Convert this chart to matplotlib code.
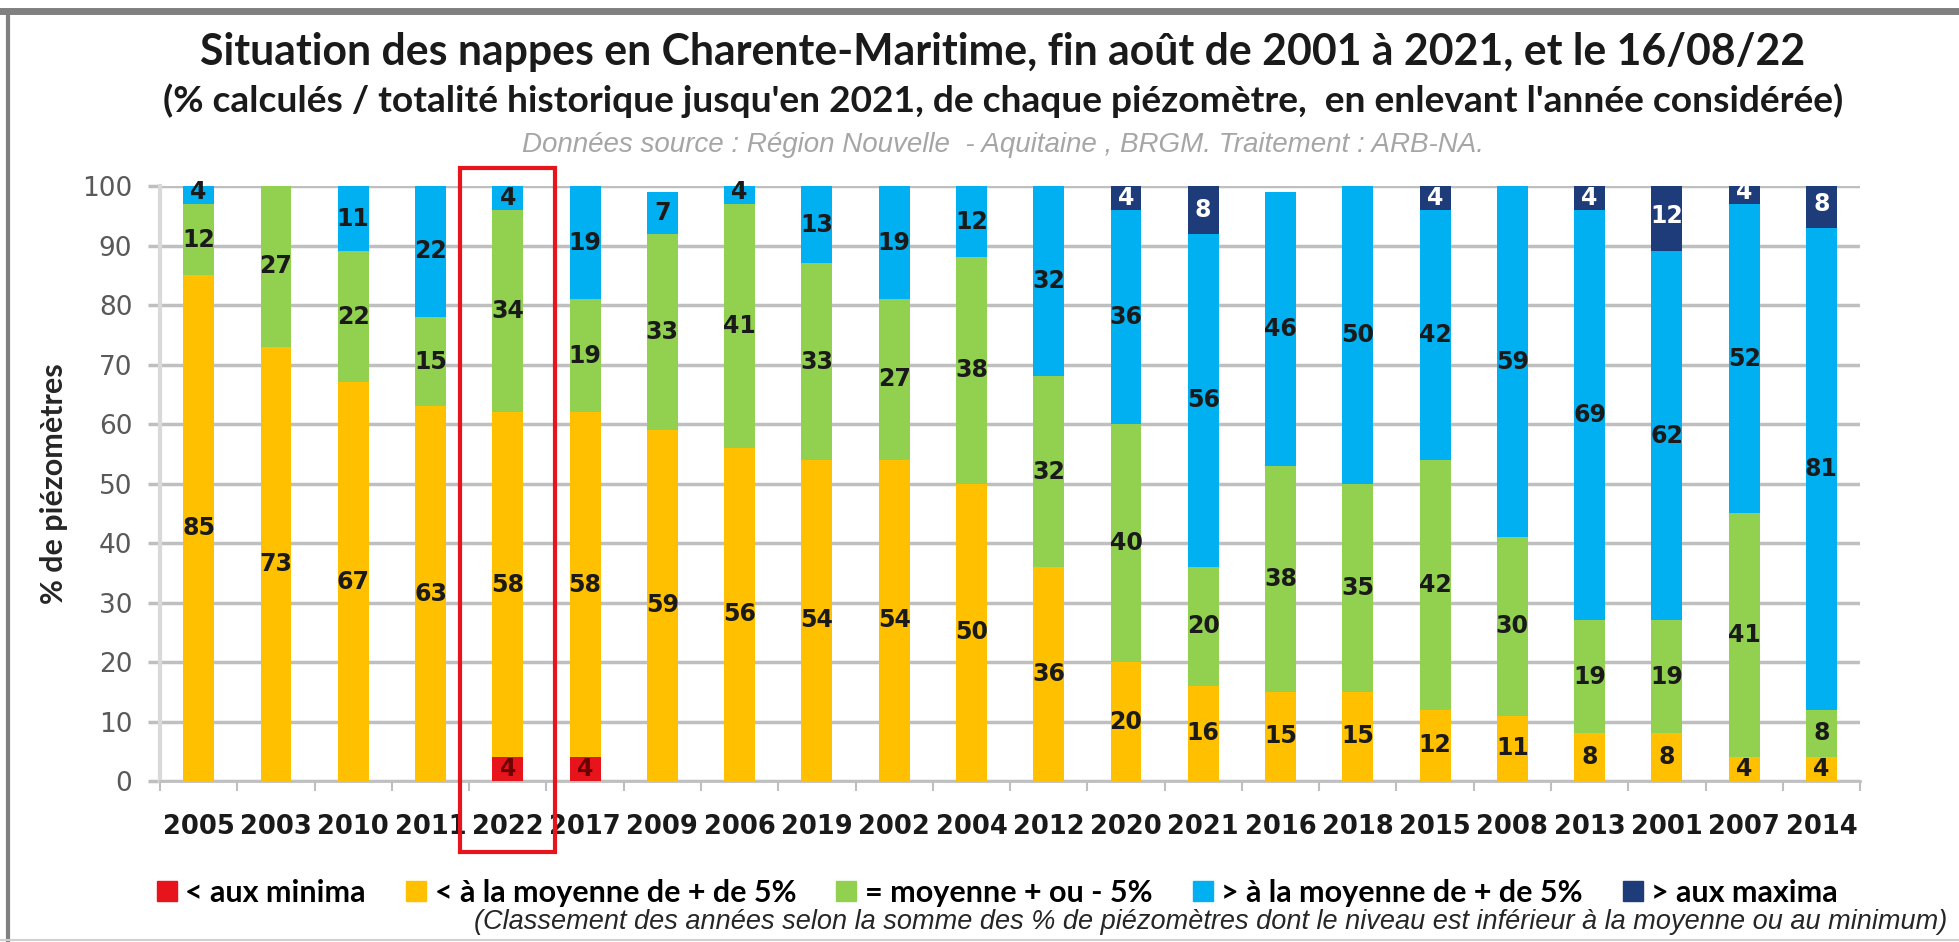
import numpy as np
import matplotlib
matplotlib.use("Agg")
import matplotlib.pyplot as plt
from matplotlib.patches import Rectangle
from matplotlib.lines import Line2D


# years, ranked by sum of % below mean / minimum
annees = ['2005', '2003', '2010', '2011', '2022', '2017', '2009', '2006', '2019', '2002', '2004',
          '2012', '2020', '2021', '2016', '2018', '2015', '2008', '2013', '2001', '2007', '2014']

minima = [0, 0, 0, 0, 4, 4, 0, 0, 0, 0, 0, 0, 0, 0, 0, 0, 0, 0, 0, 0, 0, 0]
sous_moy = [85, 73, 67, 63, 58, 58, 59, 56, 54, 54, 50, 36, 20, 16, 15, 15, 12, 11, 8, 8, 4, 4]
moyenne = [12, 27, 22, 15, 34, 19, 33, 41, 33, 27, 38, 32, 40, 20, 38, 35, 42, 30, 19, 19, 41, 8]
sur_moy = [4, 0, 11, 22, 4, 19, 7, 4, 13, 19, 12, 32, 36, 56, 46, 50, 42, 59, 69, 62, 52, 81]
maxima = [0, 0, 0, 0, 0, 0, 0, 0, 0, 0, 0, 0, 4, 8, 0, 0, 4, 0, 4, 12, 4, 8]

series = [minima, sous_moy, moyenne, sur_moy, maxima]
noms = ['< aux minima', '< à la moyenne de + de 5%', '= moyenne + ou - 5%',
        '> à la moyenne de + de 5%', '> aux maxima']
couleurs = ['#E8141B', '#FFC000', '#92D050', '#00B0F0', '#1F3C7A']
coul_txt = ['#6B0000', '#1a1a1a', '#1a1a1a', '#1a1a1a', '#FFFFFF']

fig = plt.figure(figsize=(19.59, 9.42), dpi=100)
ax = fig.add_axes([0.0817, 0.1709, 0.8678, 0.6316])

x = np.arange(len(annees))
bas = np.zeros(len(annees))
for vals, col, tc in zip(series, couleurs, coul_txt):
    vals = np.array(vals, dtype=float)
    ax.bar(x, vals, 0.40, bottom=bas, color=col, zorder=3)
    for i in range(len(x)):
        if vals[i] > 0:
            ax.text(x[i], bas[i] + vals[i] / 2, str(int(vals[i])), ha='center', va='center',
                    fontsize=17, fontweight='bold', color=tc, zorder=4)
    bas = bas + vals

ax.set_xlim(-0.5, len(annees) - 0.5)
ax.set_ylim(0, 100)
ax.set_yticks(np.arange(0, 101, 10))
ax.yaxis.grid(True, color='#BFBFBF', lw=2.5, zorder=0)
ax.set_xticks(x)
ax.set_xticklabels(annees, fontsize=18.5, fontweight='bold', color='#1a1a1a')
ax.set_xticks(np.arange(-0.5, len(annees)), minor=True)
ax.tick_params(axis='x', which='major', length=0, pad=24)
ax.tick_params(axis='x', which='minor', length=7, width=1.5, color='#BFBFBF', direction='out')
ax.tick_params(axis='y', length=9, width=2.5, color='#BFBFBF', labelsize=19,
               labelcolor='#595959', pad=11)

for s in ['top', 'right']:
    ax.spines[s].set_visible(False)
ax.spines['left'].set_color('#D9D9D9')
ax.spines['left'].set_linewidth(3)
ax.spines['bottom'].set_color('#BFBFBF')
ax.spines['bottom'].set_linewidth(2)

ax.set_ylabel('% de piézomètres', fontsize=22, fontweight='bold', family='Lato',
              color='#262626', labelpad=10)

# red box around 2022
i22 = annees.index('2022')
ax.add_patch(Rectangle((i22 - 0.617, -11.9), 1.234, 114.9, fill=False, edgecolor='#E8141B',
                       lw=3, clip_on=False, zorder=5))

# titles
fig.text(0.512, 0.945, 'Situation des nappes en Charente-Maritime, fin août de 2001 à 2021, et le 16/08/22',
         ha='center', va='center', fontsize=30.8, fontweight='bold', family='Lato', color='#1a1a1a')
fig.text(0.512, 0.893, "(% calculés / totalité historique jusqu'en 2021, de chaque piézomètre,  en enlevant l'année considérée)",
         ha='center', va='center', fontsize=26.7, fontweight='bold', family='Lato', color='#1a1a1a')
fig.text(0.512, 0.846, 'Données source : Région Nouvelle  - Aquitaine , BRGM. Traitement : ARB-NA.',
         ha='center', va='center', fontsize=20, style='italic', family='Liberation Sans', color='#A6A6A6')

# legend
poignees = [Line2D([], [], marker='s', ls='', markersize=14, color=c) for c in couleurs]
fig.legend(poignees, noms, loc='center', bbox_to_anchor=(0.509, 0.052), ncol=5, frameon=False,
           prop={'family': 'Lato', 'weight': 'bold', 'size': 22}, handletextpad=0.25,
           columnspacing=1.3, handlelength=0.7)
fig.text(0.994, 0.021, "(Classement des années selon la somme des % de piézomètres dont le niveau est inférieur à la moyenne ou au minimum)",
         ha='right', va='center', fontsize=19.5, style='italic', family='Liberation Sans', color='#262626')

# grey frame of the picture
fig.add_artist(Line2D([0, 1], [0.988, 0.988], transform=fig.transFigure, color='#808080', lw=5))
fig.add_artist(Line2D([0.004, 0.004], [0, 0.988], transform=fig.transFigure, color='#808080', lw=3))
fig.add_artist(Line2D([0, 1], [0.002, 0.002], transform=fig.transFigure, color='#D0D0D0', lw=1.5))

fig.savefig('out.png', dpi=100)
